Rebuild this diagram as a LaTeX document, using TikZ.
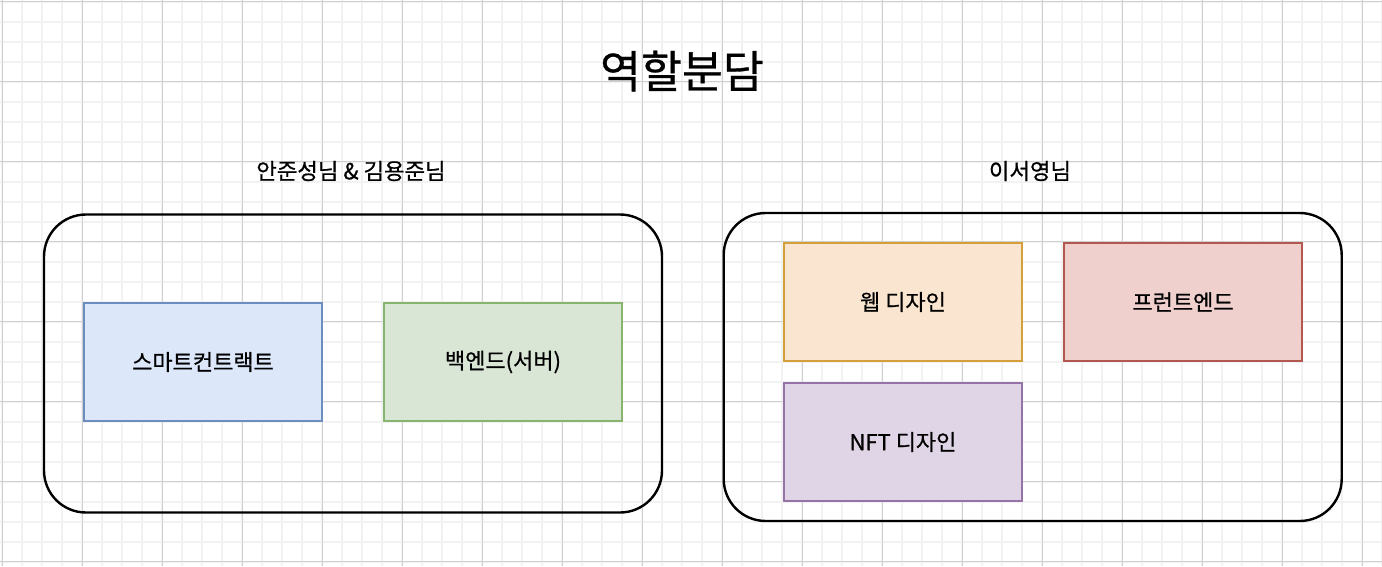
\documentclass[tikz,border=0pt]{standalone}
\usepackage{fontspec}
\setmainfont{Noto Sans CJK KR}[FakeBold=0.7]
\usepackage{xcolor}
\usetikzlibrary{positioning}

\definecolor{gridminor}{HTML}{F2F2F2}
\definecolor{gridmajor}{HTML}{D0D0D0}
\definecolor{blueFill}{HTML}{DCE8FA}
\definecolor{blueLine}{HTML}{6C8EBF}
\definecolor{greenFill}{HTML}{D9E6D6}
\definecolor{greenLine}{HTML}{87B46E}
\definecolor{orangeFill}{HTML}{FAE6D0}
\definecolor{orangeLine}{HTML}{D6A038}
\definecolor{redFill}{HTML}{F0D0CD}
\definecolor{redLine}{HTML}{B25850}
\definecolor{purpleFill}{HTML}{E0D5E6}
\definecolor{purpleLine}{HTML}{9673A6}

\begin{document}
\begin{tikzpicture}[x=1pt, y=-1pt,
    group/.style={draw=black, line width=2.4pt, rounded corners=42pt, minimum width=618pt},
    task/.style={draw, line width=2pt, minimum width=238pt, minimum height=118pt,
                 font=\fontsize{22}{26}\selectfont},
    caption/.style={font=\fontsize{22.3}{26}\selectfont}]
    \useasboundingbox (0,0) rectangle (1382,566);

    % grid background
    \foreach \gx in {2,22,...,1382} \draw[gridminor, line width=2pt] (\gx,0) -- (\gx,566);
    \foreach \gy in {1.5,21.5,...,566} \draw[gridminor, line width=2pt] (0,\gy) -- (1382,\gy);
    \foreach \gx in {2,82,...,1382} \draw[gridmajor, line width=1pt] (\gx,0) -- (\gx,566);
    \foreach \gy in {1.5,81.5,...,566} \draw[gridmajor, line width=1pt] (0,\gy) -- (1382,\gy);

    % title
    \node[font=\fontsize{44.5}{52}\selectfont] (title) at (682,71) {역할분담};

    % team groups
    \node[group, minimum height=298pt] (devgroup) at (353,363.5) {};
    \node[group, minimum height=308pt] (designgroup) at (1032.7,367) {};
    \node[caption] (devcaption) at (351,171) {안준성님 \& 김용준님};
    \node[caption] (designcaption) at (1030,171) {이서영님};

    % tasks
    \node[task, draw=blueLine, fill=blueFill] (contract) at (203,362) {스마트컨트랙트};
    \node[task, draw=greenLine, fill=greenFill] (backend) at (503,362) {백엔드(서버)};
    \node[task, draw=orangeLine, fill=orangeFill] (webdesign) at (903,302) {웹 디자인};
    \node[task, draw=redLine, fill=redFill] (frontend) at (1183,302) {프런트엔드};
    \node[task, draw=purpleLine, fill=purpleFill] (nftdesign) at (903,442) {NFT 디자인};
\end{tikzpicture}
\end{document}
